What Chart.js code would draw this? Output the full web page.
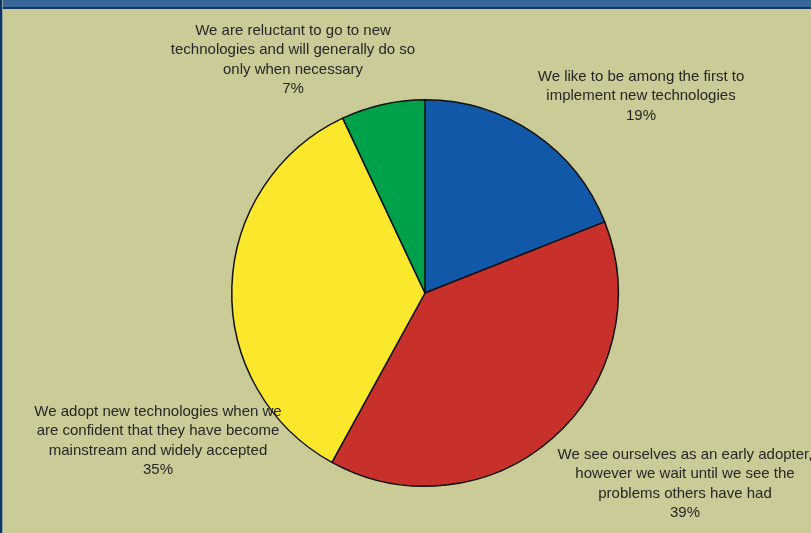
<!DOCTYPE html>
<html>
<head>
<meta charset="utf-8">
<script src="https://cdn.jsdelivr.net/npm/chart.js@4"></script>
<style>
  html, body { margin: 0; padding: 0; width: 811px; height: 533px; overflow: hidden; background: #cbcb98; }
  #topBar { position: absolute; left: 0; top: 0; width: 811px; height: 7px; background: #3a679a; border-bottom: 2px solid #0f3563; }
  #leftBar { position: absolute; left: 0; top: 0; width: 2px; height: 533px; background: #0f3563; border-right: 1px solid #8ea0a8; }
  #wrap { position: absolute; left: 0; top: 0; width: 811px; height: 533px; }
</style>
</head>
<body>
<div id="wrap"><canvas id="pieChart"></canvas></div>
<div id="topBar"></div>
<div id="leftBar"></div>
<script>
// --- Data ---
const categories = [
    ['We like to be among the first to', 'implement new technologies'],
    ['We see ourselves as an early adopter,', 'however we wait until we see the', 'problems others have had'],
    ['We adopt new technologies when we', 'are confident that they have become', 'mainstream and widely accepted'],
    ['We are reluctant to go to new', 'technologies and will generally do so', 'only when necessary']
];
const shares = [19, 39, 35, 7];
const sliceColors = ['#1158a8', '#c8312b', '#fbe82d', '#00a14b'];

// label anchors: centre x and top line y, in canvas pixels
const labelSpots = [
    { x: 641, y: 77 },
    { x: 685, y: 455 },
    { x: 158, y: 412 },
    { x: 293, y: 31 }
];

// --- Outside labels ---
const sliceLabels = {
    id: 'sliceLabels',
    afterDraw(chart) {
        const c = chart.ctx;
        c.save();
        c.font = '15px "Liberation Sans", Arial, sans-serif';
        c.fillStyle = '#262626';
        c.textAlign = 'center';
        c.textBaseline = 'middle';
        chart.data.datasets[0].data.forEach((v, i) => {
            const lines = categories[i].concat([v + '%']);
            const spot = labelSpots[i];
            lines.forEach((line, k) => c.fillText(line, spot.x, spot.y + k * 19.3));
        });
        c.restore();
    }
};

const ctx = document.getElementById('pieChart').getContext('2d');
new Chart(ctx, {
    type: 'pie',
    data: {
        labels: categories.map(l => l.join(' ')),
        datasets: [{
            data: shares,
            backgroundColor: sliceColors,
            borderColor: '#111111',
            borderWidth: 1.5
        }]
    },
    options: {
        responsive: true,
        maintainAspectRatio: false,
        animation: false,
        layout: { padding: { top: 99, bottom: 46, left: 39, right: 0 } },
        plugins: { legend: { display: false }, tooltip: { enabled: false } }
    },
    plugins: [sliceLabels]
});
</script>
</body>
</html>
